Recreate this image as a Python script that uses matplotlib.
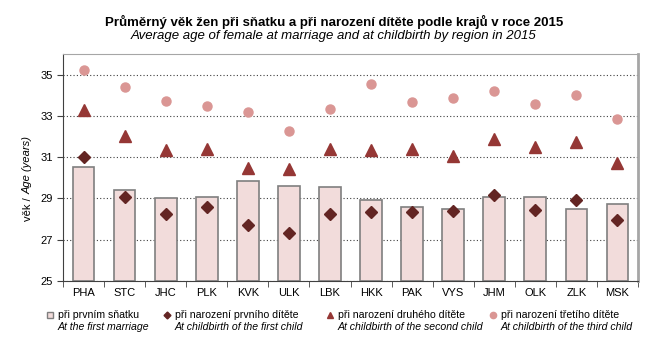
import matplotlib

matplotlib.use("Agg")
import matplotlib.pyplot as plt
from matplotlib.lines import Line2D
import numpy as np

plt.rcParams["font.family"] = ["Liberation Sans", "DejaVu Sans"]

REGIONS = ["PHA", "STC", "JHC", "PLK", "KVK", "ULK", "LBK",
           "HKK", "PAK", "VYS", "JHM", "OLK", "ZLK", "MSK"]
MARRIAGE = [30.51, 29.41, 29.04, 29.08, 29.85, 29.60, 29.55,
            28.94, 28.58, 28.49, 29.08, 29.07, 28.49, 28.73]
FIRST_CHILD = [31.03, 29.08, 28.26, 28.60, 27.69, 27.32, 28.24,
               28.36, 28.32, 28.39, 29.15, 28.44, 28.94, 27.95]
SECOND_CHILD = [33.30, 32.03, 31.37, 31.42, 30.48, 30.43, 31.42,
                31.35, 31.42, 31.06, 31.87, 31.50, 31.74, 30.72]
THIRD_CHILD = [35.24, 34.40, 33.75, 33.49, 33.19, 32.26, 33.36,
               34.55, 33.70, 33.86, 34.24, 33.60, 34.03, 32.86]

LEGEND_CZ = ["při prvním sňatku", "při narození prvního dítěte",
             "při narození druhého dítěte", "při narození třetího dítěte"]
LEGEND_EN = ["At the first marriage", "At childbirth of the first child",
             "At childbirth of the second child", "At childbirth of the third child"]

BAR_FILL = "#F2DCDB"
BAR_EDGE = "#7F7F7F"
C_FIRST = "#632523"
C_SECOND = "#953735"
C_THIRD = "#DA9694"

W, H = 660, 349
fig = plt.figure(figsize=(W / 100, H / 100), dpi=100)
ax = fig.add_axes([63 / W, 1 - 280.7 / H, (638 - 63) / W, (280.7 - 54.4) / H])

x = np.arange(len(REGIONS))
ax.bar(x, np.array(MARRIAGE) - 25, bottom=25, width=0.53, color=BAR_FILL,
       edgecolor=BAR_EDGE, linewidth=1.2, zorder=2)
ax.plot(x, FIRST_CHILD, ls="none", marker="D", ms=6, color=C_FIRST, zorder=3)
ax.plot(x, SECOND_CHILD, ls="none", marker="^", ms=8, color=C_SECOND, zorder=3)
ax.plot(x, THIRD_CHILD, ls="none", marker="o", ms=6.5, color=C_THIRD, zorder=3)

ax.set_xlim(-0.5, len(REGIONS) - 0.5)
ax.set_ylim(25, 36)
ax.set_yticks([25, 27, 29, 31, 33, 35])
ax.yaxis.grid(True, linestyle=(0, (1, 2)), color="#404040", linewidth=0.8)
ax.set_axisbelow(True)
ax.set_xticks(x)
ax.set_xticklabels(REGIONS)
ax.set_xticks(np.arange(-0.5, len(REGIONS)), minor=True)
ax.tick_params(axis="x", which="major", length=0, labelsize=8, pad=5)
ax.tick_params(axis="x", which="minor", length=4, color="#404040")
ax.tick_params(axis="y", length=4, labelsize=8, color="#404040")
for side in ("left", "bottom"):
    ax.spines[side].set_color("#404040")
ax.spines["top"].set_color("#A6A6A6")
ax.spines["right"].set_color("#A6A6A6")
ax.spines["right"].set_linewidth(2)

# y label: Czech part upright, English part italic
fig.text(28 / W, 1 - 194 / H, "věk / ", rotation=90, ha="center", va="top", fontsize=8)
fig.text(28 / W, 1 - 194 / H, "Age (years)", rotation=90, ha="center", va="bottom",
         fontsize=8, style="italic")

fig.text(334 / W, 1 - 22 / H, "Průměrný věk žen při sňatku a při narození dítěte podle krajů v roce 2015",
         ha="center", va="center", fontsize=9.5, fontweight="bold")
fig.text(334 / W, 1 - 36.5 / H, "Average age of female at marriage and at childbirth by region in 2015",
         ha="center", va="center", fontsize=9.5, style="italic")

handles = [
    dict(marker="s", ms=5, mfc=BAR_FILL, mec=BAR_EDGE),
    dict(marker="D", ms=3.5, mfc=C_FIRST, mec=C_FIRST),
    dict(marker="^", ms=4.5, mfc=C_SECOND, mec=C_SECOND),
    dict(marker="o", ms=4.5, mfc=C_THIRD, mec=C_THIRD),
]
marker_x = [50, 167, 330, 493]
for mx, style, cz, en in zip(marker_x, handles, LEGEND_CZ, LEGEND_EN):
    fig.add_artist(Line2D([mx / W], [1 - 315 / H], ls="none", transform=fig.transFigure, **style))
    fig.text((mx + 8) / W, 1 - 315 / H, cz, ha="left", va="center", fontsize=7.6)
    fig.text((mx + 8) / W, 1 - 327 / H, en, ha="left", va="center", fontsize=7.6,
             style="italic")

fig.savefig("out.png", dpi=100)
